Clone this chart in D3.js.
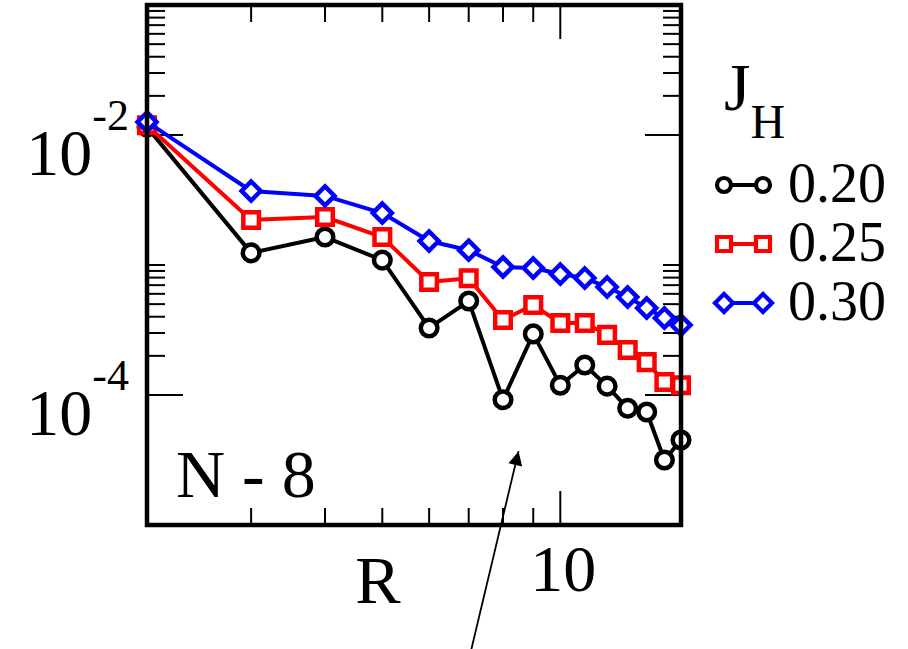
<!DOCTYPE html>
<html>
<head>
<meta charset="utf-8">
<script src="https://cdn.jsdelivr.net/npm/d3@7"></script>
<style>
  body { margin: 0; background: #fff; }
  svg text { font-family: "Liberation Serif", "Times New Roman", serif; }
</style>
</head>
<body>
<script>
// separation R and correlation values
var R = [2, 3, 4, 5, 6, 7, 8, 9, 10, 11, 12, 13, 14, 15, 16];
var j020 = [1.15e-2, 1.24e-3, 1.64e-3, 1.09e-3, 3.28e-4, 5.28e-4, 9.2e-5, 2.95e-4, 1.19e-4, 1.70e-4, 1.17e-4, 7.9e-5, 7.4e-5, 3.16e-5, 4.5e-5];
var j025 = [1.19e-2, 2.22e-3, 2.34e-3, 1.64e-3, 7.4e-4, 7.9e-4, 3.78e-4, 4.92e-4, 3.58e-4, 3.58e-4, 2.90e-4, 2.22e-4, 1.79e-4, 1.26e-4, 1.19e-4];
var j030 = [1.26e-2, 3.71e-3, 3.40e-3, 2.51e-3, 1.53e-3, 1.30e-3, 9.66e-4, 9.48e-4, 8.53e-4, 7.94e-4, 6.77e-4, 5.67e-4, 4.67e-4, 3.91e-4, 3.45e-4];
var seriesNames = ["0.20", "0.25", "0.30"];

// tick values
var xMajor = [10];
var xMinor = [3, 4, 5, 6, 7, 8, 9];
var yMajor = [1e-2, 1e-4];
var yMinor = [2e-4, 3e-4, 4e-4, 5e-4, 6e-4, 7e-4, 8e-4, 9e-4, 1e-3,
              2e-2, 3e-2, 4e-2, 5e-2, 6e-2, 7e-2, 8e-2, 9e-2];
var yLabels = [{v: 1e-2, exp: "-2"}, {v: 1e-4, exp: "-4"}];

var width = 908, height = 649;
var mLeft = 147, mTop = 5, w = 534, h = 520;
var fontName = "'Liberation Serif'";

var svg = d3.select("body").append("svg")
    .attr("width", width)
    .attr("height", height);

var x = d3.scaleLog().domain([2, 16]).range([0, w]);
var y = d3.scaleLog().domain([1e-5, 1e-1]).range([h, 0]);

var g = svg.append("g").attr("transform", "translate(" + mLeft + "," + mTop + ")");

// ticks, pointing inward on all four sides
var tickSpecs = [
  {vals: xMinor, len: 17, side: "bottom"}, {vals: xMajor, len: 34, side: "bottom"},
  {vals: xMinor, len: 17, side: "top"},    {vals: xMajor, len: 34, side: "top"},
  {vals: yMinor, len: 18, side: "left"},   {vals: yMajor, len: 36, side: "left"},
  {vals: yMinor, len: 18, side: "right"},  {vals: yMajor, len: 36, side: "right"}
];
tickSpecs.forEach(function(t) {
  var horiz = t.side === "top" || t.side === "bottom";
  g.selectAll(null)
      .data(t.vals)
      .enter()
      .append("line")
      .attr("x1", function(d) { return horiz ? x(d) : (t.side === "left" ? 0 : w); })
      .attr("x2", function(d) { return horiz ? x(d) : (t.side === "left" ? t.len : w - t.len); })
      .attr("y1", function(d) { return horiz ? (t.side === "top" ? 0 : h) : y(d); })
      .attr("y2", function(d) { return horiz ? (t.side === "top" ? t.len : h - t.len) : y(d); })
      .attr("stroke", "#000")
      .attr("stroke-width", 2);
});

// data series
var series = [
  {name: seriesNames[0], values: j020, color: "#000", shape: "circle"},
  {name: seriesNames[1], values: j025, color: "#f00", shape: "square"},
  {name: seriesNames[2], values: j030, color: "#00f", shape: "diamond"}
];

function symbolPath(shape, s) {
  if (shape === "square") return "M" + (-s) + "," + (-s) + "H" + s + "V" + s + "H" + (-s) + "Z";
  if (shape === "diamond") return "M0," + (-s) + "L" + s + ",0L0," + s + "L" + (-s) + ",0Z";
  return "M" + s + ",0A" + s + "," + s + " 0 1,1 " + (-s) + ",0A" + s + "," + s + " 0 1,1 " + s + ",0Z";
}
var markerSize = {circle: 8.3, square: 7.8, diamond: 9.5};

var lineGen = d3.line()
    .x(function(d) { return x(d[0]); })
    .y(function(d) { return y(d[1]); });

series.forEach(function(s) {
  var pts = R.map(function(r, i) { return [r, s.values[i]]; });
  g.append("path")
      .datum(pts)
      .attr("d", lineGen)
      .attr("fill", "none")
      .attr("stroke", s.color)
      .attr("stroke-width", 4)
      .attr("stroke-linejoin", "round");
  g.selectAll(null)
      .data(pts)
      .enter()
      .append("path")
      .attr("transform", function(d) { return "translate(" + x(d[0]) + "," + y(d[1]) + ")"; })
      .attr("d", symbolPath(s.shape, markerSize[s.shape]))
      .attr("fill", "#fff")
      .attr("stroke", s.color)
      .attr("stroke-width", 4.5);
});

// frame on top
g.append("rect")
    .attr("width", w)
    .attr("height", h)
    .attr("fill", "none")
    .attr("stroke", "#000")
    .attr("stroke-width", 4.5);

// legend symbols
var lg = svg.append("g");
series.forEach(function(s, i) {
  var by = 202 + i * 59;
  lg.append("line")
      .attr("x1", 724).attr("x2", 763)
      .attr("y1", by - 17).attr("y2", by - 17)
      .attr("stroke", s.color)
      .attr("stroke-width", 4);
  [724, 763].forEach(function(cx) {
    lg.append("path")
        .attr("transform", "translate(" + cx + "," + (by - 17) + ")")
        .attr("d", symbolPath(s.shape, s.shape === "diamond" ? 9 : 7))
        .attr("fill", "#fff")
        .attr("stroke", s.color)
        .attr("stroke-width", 4.2);
  });
});

// arrow annotation pointing up into the plot
var arrowFrom = [7.07, 1.1e-6], arrowTo = [8.5, 3.7e-5];
svg.append("defs").append("marker")
    .attr("id", "head")
    .attr("viewBox", "0 0 10 10")
    .attr("refX", 10).attr("refY", 5)
    .attr("markerWidth", 18).attr("markerHeight", 14)
    .attr("markerUnits", "userSpaceOnUse")
    .attr("orient", "auto")
    .append("path")
    .attr("d", "M0,0L10,5L0,10Z")
    .attr("fill", "#000");
g.append("line")
    .attr("x1", x(arrowFrom[0])).attr("y1", y(arrowFrom[1]))
    .attr("x2", x(arrowTo[0])).attr("y2", y(arrowTo[1]))
    .attr("stroke", "#000")
    .attr("stroke-width", 1.8)
    .attr("marker-end", "url(#head)");

// all text last
function addText(parent, size) {
  return parent.append("text")
      .style("font-family", fontName)
      .style("font-size", size + "px")
      .attr("fill", "#000");
}

// y tick labels 10^n
yLabels.forEach(function(d) {
  var t = addText(svg, 66)
      .attr("x", mLeft - 18)
      .attr("y", mTop + y(d.v) + 40)
      .attr("text-anchor", "end");
  t.append("tspan").text("10");
  t.append("tspan").attr("dy", -45).style("font-size", "44px").text(d.exp);
});

// x tick label
addText(svg, 66)
    .attr("x", mLeft + x(10) + 3)
    .attr("y", 591)
    .attr("text-anchor", "middle")
    .text("10");

// axis label
addText(svg, 68)
    .attr("x", 378)
    .attr("y", 603)
    .attr("text-anchor", "middle")
    .text("R");

// panel label
addText(svg, 68)
    .attr("x", 176)
    .attr("y", 497)
    .text("N - 8");

// legend text
var jt = addText(svg, 68).attr("x", 724).attr("y", 110);
jt.append("tspan").text("J");
jt.append("tspan").attr("dy", 28).style("font-size", "48px").text("H");
series.forEach(function(s, i) {
  addText(svg, 56)
      .attr("x", 788)
      .attr("y", 202 + i * 59)
      .text(s.name);
});
</script>
</body>
</html>
